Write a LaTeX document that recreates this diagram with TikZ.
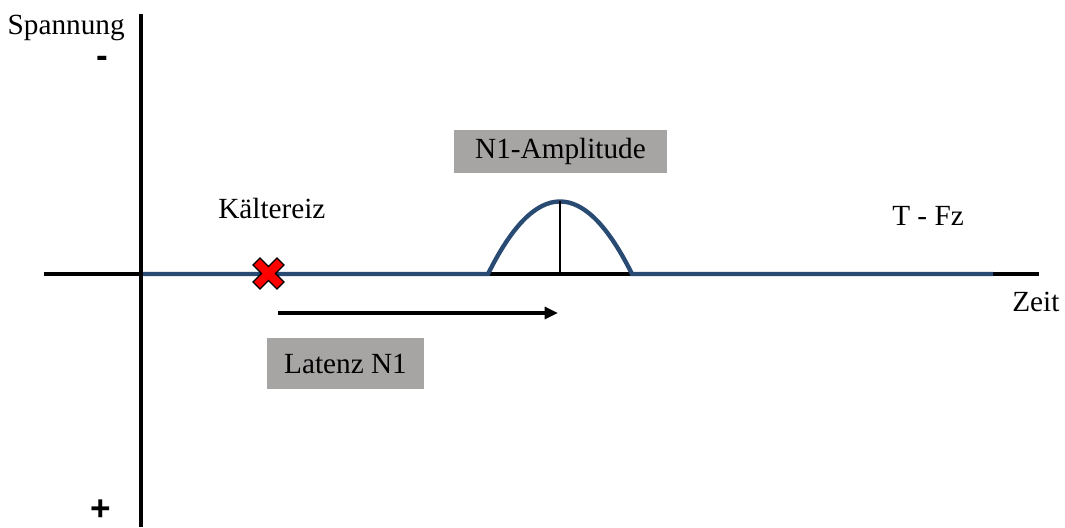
\documentclass[tikz,border=0pt]{standalone}
\usepackage{fontspec}
\setmainfont{Liberation Serif}
\newfontfamily\zeichenfont{Liberation Sans}
\usetikzlibrary{arrows.meta}
\definecolor{kurveblau}{RGB}{41,74,115}
\definecolor{kastengrau}{RGB}{167,164,164}
\definecolor{kreuzrot}{RGB}{255,0,0}

\begin{document}
\begin{tikzpicture}[x=0.025cm,y=0.025cm,
        beschrift/.style={font=\fontsize{20.8}{24}\selectfont, inner sep=0pt},
        kasten/.style={beschrift, fill=kastengrau},
        zeichen/.style={font=\zeichenfont\bfseries\fontsize{25}{28}\selectfont, inner sep=0pt},
        achse/.style={line width=3.2pt},
        kurve/.style={draw=kurveblau, line width=3.1pt}]
        \useasboundingbox (0,0) rectangle (1065,527);

        % 坐标轴
        \coordinate (yo) at (141,513);
        \coordinate (yu) at (141,0);
        \coordinate (xl) at (44,253);
        \coordinate (xr) at (1039,253);
        \draw[achse] (yo) -- (yu);
        \draw[achse] (xl) -- (xr);

        % 曲线与N1峰
        \coordinate (k0) at (143,253);
        \coordinate (ka) at (488,253);
        \coordinate (kb) at (632,253);
        \coordinate (k1) at (993,253);
        \coordinate (spitze) at (560,325.5);
        \coordinate (fuss) at (560,253);
        \draw[kurve] (k0) -- (ka) .. controls (536,349.7) and (584,349.7) .. (kb) -- (k1);
        \draw[line width=2pt] (spitze) -- (fuss);

        % 刺激标记
        \begin{scope}[shift={(268.5,253.5)}, rotate=45]
            \filldraw[fill=kreuzrot, draw=black, line width=0.9pt]
                (-5,17) -- (5,17) -- (5,5) -- (17,5) -- (17,-5) -- (5,-5) -- (5,-17)
                -- (-5,-17) -- (-5,-5) -- (-17,-5) -- (-17,5) -- (-5,5) -- cycle;
        \end{scope}

        % 潜伏期箭头
        \coordinate (la) at (278,214);
        \coordinate (lb) at (558,214);
        \draw[line width=2.2pt, -{Triangle[length=9.5pt,width=8.5pt]}] (la) -- (lb);

        % 文字
        \node[beschrift, anchor=base east] (spannung) at (125,492) {Spannung};
        \node[zeichen] (minus) at (102,465) {-};
        \node[zeichen] (plus) at (101,17) {+};
        \node[beschrift, anchor=base west] (reiz) at (218,308) {Kältereiz};
        \node[beschrift, anchor=base west] (ableitung) at (892,301) {T - Fz};
        \node[beschrift, anchor=base west] (zeit) at (1012,215) {Zeit};
        \node[kasten, minimum width=151pt, minimum height=30.5pt] (amplitude) at (560.5,375.5) {N1-Amplitude};
        \node[kasten, minimum width=111.3pt, minimum height=36.1pt] (latenz) at (345.5,163.5) {Latenz N1};

    \end{tikzpicture}
\end{document}
